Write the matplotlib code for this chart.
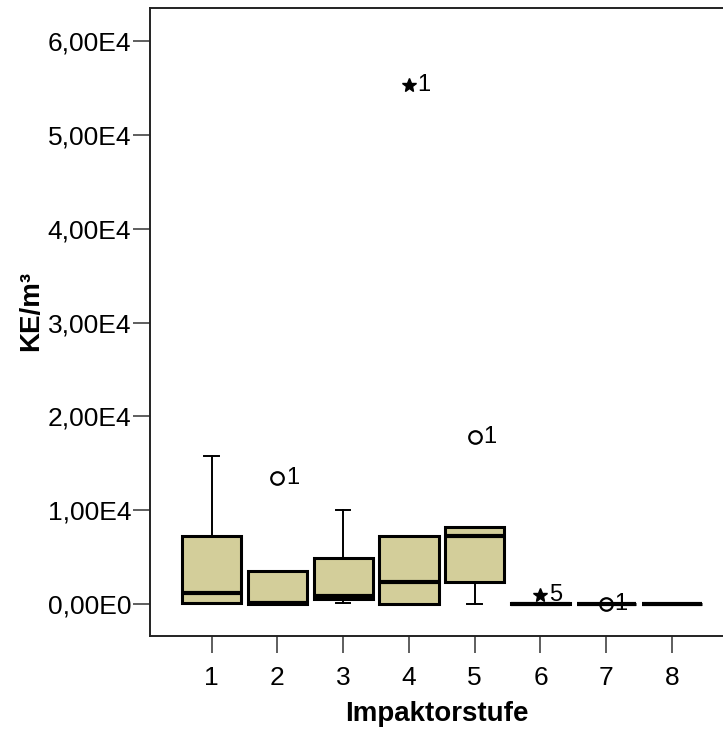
import numpy as np
import matplotlib.pyplot as plt

plt.rcParams['font.family'] = ['Liberation Sans', 'DejaVu Sans']

# KE/m3 per impactor stage (box statistics)
stages = [1, 2, 3, 4, 5, 6, 7, 8]
q1 = [140, 0, 530, 0, 2310, 0, 0, 0]
med = [1140, 60, 890, 2380, 7280, 30, 0, 0]
q3 = [7280, 3550, 4870, 7280, 8180, 120, 0, 0]
whislo = [0, 0, 140, 0, 0, 0, 0, 0]
whishi = [15800, 3550, 10000, 7280, 8180, 120, 0, 0]

# outliers: stage, value, marker, case label
out_stage = [2, 4, 5, 6, 7]
out_value = [13400, 55300, 17800, 1000, 0]
out_marker = ['o', '*', 'o', '*', 'o']
out_label = ['1', '1', '1', '5', '1']

ytick_vals = [0, 10000, 20000, 30000, 40000, 50000, 60000]
ytick_labels = ['0,00E0', '1,00E4', '2,00E4', '3,00E4', '4,00E4', '5,00E4', '6,00E4']

fill = '#D3CE9A'

fig = plt.figure(figsize=(7.23, 7.31), dpi=100)
ax = fig.add_axes([150 / 723, 1 - 636 / 731, 1 - 150 / 723, 628 / 731])

stats = []
for i in range(len(stages)):
    stats.append(dict(med=med[i], q1=q1[i], q3=q3[i],
                      whislo=whislo[i], whishi=whishi[i], fliers=[]))

ax.bxp(stats, positions=stages, widths=0.9, capwidths=0.22,
       patch_artist=True, showfliers=False,
       boxprops=dict(facecolor=fill, edgecolor='black', linewidth=2.2),
       medianprops=dict(color='black', linewidth=3, solid_capstyle='butt'),
       whiskerprops=dict(color='black', linewidth=1.4),
       capprops=dict(color='black', linewidth=1.4))

for s, v, m, lab in zip(out_stage, out_value, out_marker, out_label):
    if m == 'o':
        ax.plot(s, v, marker='o', markersize=9, markerfacecolor='none',
                markeredgecolor='black', markeredgewidth=1.6, zorder=5)
    else:
        ax.plot(s, v, marker='*', markersize=10, color='black', zorder=5)
    ax.annotate(lab, (s, v), xytext=(6, 0), textcoords='offset points',
                ha='left', va='center', fontsize=17, zorder=6)

ax.set_xlim(0.062, 8.776)
ax.set_ylim(-3410, 63517)
ax.set_xticks(stages)
ax.set_xticklabels([str(s) for s in stages])
ax.set_yticks(ytick_vals)
ax.set_yticklabels(ytick_labels)
ax.tick_params(axis='both', length=12.5, width=1.1, labelsize=19,
               color='#333333')
ax.tick_params(axis='x', pad=9)
ax.tick_params(axis='y', pad=1)

for side in ['left', 'top', 'bottom']:
    ax.spines[side].set_linewidth(1.4)
    ax.spines[side].set_color('#222222')
ax.spines['right'].set_visible(False)

ax.set_xlabel('Impaktorstufe', fontsize=20, fontweight='bold', labelpad=8)
ax.set_ylabel('KE/m³', fontsize=20, fontweight='bold')
ax.yaxis.set_label_coords(-0.185, 0.517)

fig.savefig('out.png', dpi=100)
